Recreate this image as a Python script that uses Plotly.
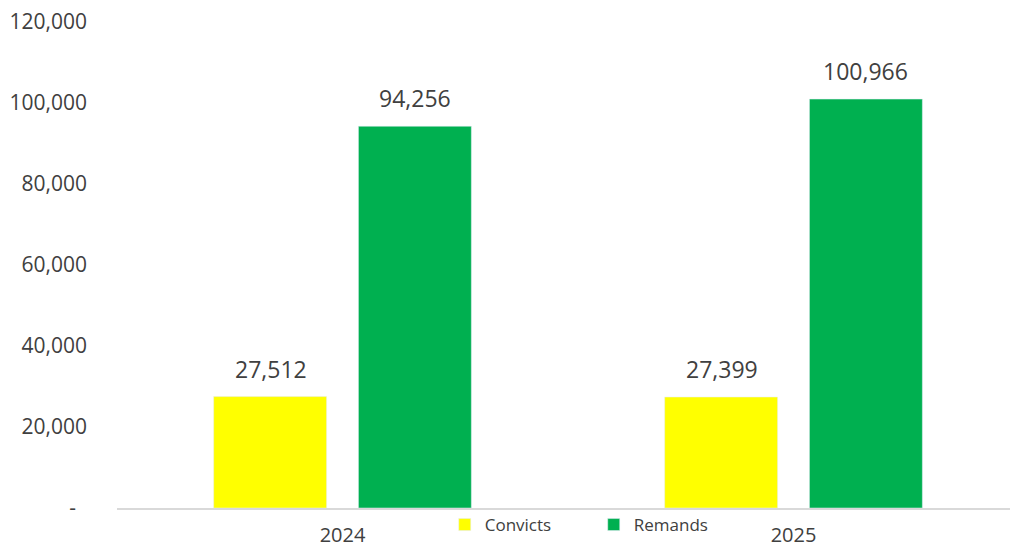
import plotly.graph_objects as go

years = ["2024", "2025"]
convicts = [27512, 27399]
remands = [94256, 100966]
ytick_vals = [0, 20000, 40000, 60000, 80000, 100000, 120000]
ytick_text = ["-\u00a0\u00a0", "20,000", "40,000", "60,000", "80,000", "100,000", "120,000"]

txt = "#404040"
font = "Open Sans"

fig = go.Figure()
fig.add_trace(go.Bar(name="Convicts", x=years, y=convicts, marker_color="#FFFF00"))
fig.add_trace(go.Bar(name="Remands", x=years, y=remands, marker_color="#00B050"))

# data labels placed over each bar (offset matches grouped bar positions)
for series, xs in ((convicts, -72), (remands, 72)):
    for i, v in enumerate(series):
        fig.add_annotation(x=i, y=v, text=f"{v:,}", showarrow=False, xshift=xs,
                           yanchor="bottom", yshift=10,
                           font=dict(size=23, color=txt, family=font))

fig.update_layout(
    width=1010, height=549,
    margin=dict(l=117, r=0, t=22, b=41),
    paper_bgcolor="white", plot_bgcolor="white",
    barmode="group", bargap=0.358, bargroupgap=0.22,
    font=dict(family=font, color=txt),
    showlegend=True,
    legend=dict(orientation="h", x=0.367, xanchor="left", y=-0.035, yanchor="middle",
                font=dict(size=17, color=txt, family=font), bgcolor="rgba(0,0,0,0)",
                itemwidth=30, entrywidth=104, entrywidthmode="pixels"),
)
fig.update_xaxes(type="category", range=[-0.5, 1.48], showline=True, linecolor="#D9D9D9",
                 linewidth=1.5, showgrid=False, ticks="", ticklabelstandoff=8,
                 automargin=False, tickfont=dict(size=20, color=txt, family=font))
fig.update_yaxes(range=[0, 120000], tickvals=ytick_vals, ticktext=ytick_text,
                 showgrid=False, zeroline=False, showline=False, ticks="",
                 automargin=False,
                 ticklabelstandoff=29, tickfont=dict(size=21, color=txt, family=font))

fig.write_html("out.html", config={"displayModeBar": False},
               post_script="document.body.style.margin='0';document.body.style.overflow='hidden';")
